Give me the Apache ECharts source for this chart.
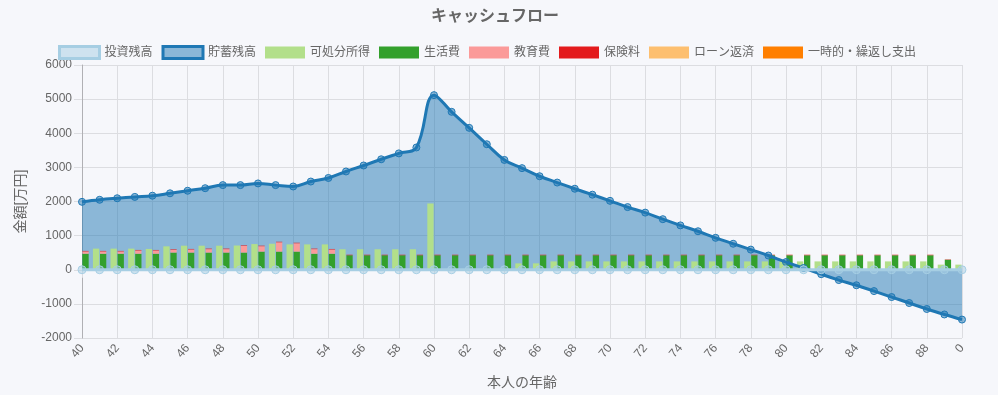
<!DOCTYPE html>
<html>
<head>
<meta charset="utf-8">
<script src="https://cdn.jsdelivr.net/npm/echarts@6/dist/echarts.min.js"></script>
<style>
html,body{margin:0;padding:0;background:#f6f7fb;}
#c{width:998px;height:395px;}
</style>
</head>
<body>
<div id="c"></div>
<script>
const ages = ['40','41','42','43','44','45','46','47','48','49','50','51','52','53','54','55','56','57','58','59','60','61','62','63','64','65','66','67','68','69','70','71','72','73','74','75','76','77','78','79','80','81','82','83','84','85','86','87','88','89','0'];
const investment = [0,0,0,0,0,0,0,0,0,0,0,0,0,0,0,0,0,0,0,0,0,0,0,0,0,0,0,0,0,0,0,0,0,0,0,0,0,0,0,0,0,0,0,0,0,0,0,0,0,0,0];
const savings = [1990,2050,2095,2135,2170,2240,2315,2390,2480,2480,2530,2480,2440,2585,2690,2880,3055,3237,3410,3583,5117,4628,4158,3678,3218,2978,2740,2555,2374,2200,2020,1836,1674,1482,1300,1128,935,762,590,417,225,52,-130,-302,-455,-625,-800,-975,-1150,-1310,-1460];
// first and last entries of the bar stacks fall outside the plot edge in the reference (not visible)
const disposable = [null,619,619,619,610,686,705,705,705,710,753,762,743,743,743,600,600,600,600,600,1942,0,0,0,0,187,187,245,245,245,245,245,245,245,245,245,245,245,245,245,245,245,245,245,245,245,245,245,245,150,150];
const living = [470,470,470,470,470,504,504,504,504,504,532,532,532,470,470,425,425,425,425,425,425,425,425,425,425,425,425,425,425,425,425,425,425,425,425,425,425,425,425,425,425,425,425,425,425,425,425,425,425,293,null];
const education = [67,67,67,95,95,81,91,100,100,196,158,273,244,134,124,0,0,0,0,0,0,0,0,0,0,0,0,0,0,0,0,0,0,0,0,0,0,0,0,0,0,0,0,0,0,0,0,0,0,0,null];
const insurance = [15,15,15,15,15,15,15,15,15,15,15,15,15,15,15,15,15,15,15,15,15,15,15,15,15,15,15,15,15,15,15,15,15,15,15,15,15,15,15,15,15,15,15,15,15,15,15,15,15,10,null];
const loan = [0,0,0,0,0,0,0,0,0,0,0,0,0,0,0,0,0,0,0,0,0,0,0,0,0,0,0,0,0,0,0,0,0,0,0,0,0,0,0,0,0,0,0,0,0,0,0,0,0,0,null];
const oneTime = [0,0,0,0,0,0,0,0,0,0,0,0,0,0,0,0,0,0,0,0,0,0,0,0,0,0,0,0,0,0,0,0,0,0,0,0,0,0,0,0,0,0,0,0,0,0,0,0,0,0,null];
const yTicks = {min:-2000, max:6000, interval:1000};

const FONT = "'Liberation Sans', 'Noto Sans CJK JP', sans-serif";
const chart = echarts.init(document.getElementById('c'), null, {renderer:'canvas'});

function barSeries(name, data, color, stack){
  return {name, type:'bar', data, stack, barWidth:6.3, barGap:'12%', zlevel:1, z:2,
    itemStyle:{color}, emphasis:{disabled:true}};
}

const option = {
  backgroundColor:'#f6f7fb',
  animation:false,
  textStyle:{fontFamily:FONT},
  title:{text:'キャッシュフロー', left:490, top:4, textAlign:'center',
    textStyle:{fontSize:16, fontWeight:'bold', color:'#666', fontFamily:FONT}},
  legend:{top:40, left:53, itemWidth:40, itemHeight:12, itemGap:9,
    textStyle:{fontSize:12, color:'#666', fontFamily:FONT},
    data:[
      {name:'投資残高', icon:'rect', itemStyle:{color:'rgba(166,206,227,0.5)', borderColor:'#a6cee3', borderWidth:3}},
      {name:'貯蓄残高', icon:'rect', itemStyle:{color:'rgba(31,120,180,0.5)', borderColor:'#1f78b4', borderWidth:3}},
      {name:'可処分所得', icon:'rect', itemStyle:{color:'#b2df8a'}},
      {name:'生活費', icon:'rect', itemStyle:{color:'#33a02c'}},
      {name:'教育費', icon:'rect', itemStyle:{color:'#fb9a99'}},
      {name:'保険料', icon:'rect', itemStyle:{color:'#e31a1c'}},
      {name:'ローン返済', icon:'rect', itemStyle:{color:'#fdbf6f'}},
      {name:'一時的・繰返し支出', icon:'rect', itemStyle:{color:'#ff7f00'}}
    ]},
  grid:{left:82, right:36, top:65, bottom:52, containLabel:false},
  xAxis:{type:'category', data:ages, boundaryGap:false,
    name:'本人の年齢', nameLocation:'middle', nameGap:38,
    nameTextStyle:{fontSize:14, color:'#666'},
    axisLine:{lineStyle:{color:'#c4c5c9'}},
    axisTick:{show:true, length:8, interval:1, lineStyle:{color:'#dcdde1'}},
    axisLabel:{interval:1, rotate:50, color:'#666', fontSize:12, margin:8},
    splitLine:{show:true, interval:1, lineStyle:{color:'#dcdde1'}}},
  yAxis:{type:'value', min:yTicks.min, max:yTicks.max, interval:yTicks.interval,
    name:'金額[万円]', nameLocation:'middle', nameGap:54, nameRotate:90,
    nameTextStyle:{fontSize:14, color:'#666'},
    axisLine:{show:true, lineStyle:{color:'#b0b0b4'}},
    axisTick:{show:true, length:8, lineStyle:{color:'#dcdde1'}},
    axisLabel:{color:'#666', fontSize:12, margin:10, formatter:function(v){return String(v);}},
    splitLine:{lineStyle:{color:'#dcdde1'}}},
  series:[
    {name:'貯蓄残高', type:'line', data:savings, smooth:0.4, zlevel:0, z:1, showSymbol:false,
      lineStyle:{width:0, opacity:0}, areaStyle:{color:'rgba(31,120,180,0.5)', opacity:1, origin:0},
      itemStyle:{color:'#1f78b4'}, emphasis:{disabled:true}, silent:true},
    barSeries('可処分所得', disposable, '#b2df8a', 'income'),
    barSeries('生活費', living, '#33a02c', 'expense'),
    barSeries('教育費', education, '#fb9a99', 'expense'),
    barSeries('保険料', insurance, '#e31a1c', 'expense'),
    barSeries('ローン返済', loan, '#fdbf6f', 'expense'),
    barSeries('一時的・繰返し支出', oneTime, '#ff7f00', 'expense'),
    {name:'貯蓄残高', type:'line', data:savings, smooth:0.4, zlevel:1, z:3,
      symbol:'circle', symbolSize:7, showAllSymbol:true,
      lineStyle:{color:'#1f78b4', width:3},
      itemStyle:{color:'rgba(31,120,180,0.5)', borderColor:'#1f78b4', borderWidth:1},
      emphasis:{disabled:true}},
    {name:'投資残高', type:'line', data:investment, zlevel:1, z:4,
      symbol:'circle', symbolSize:8, showAllSymbol:true,
      lineStyle:{color:'#a6cee3', width:3},
      itemStyle:{color:'rgba(166,206,227,0.5)', borderColor:'#a6cee3', borderWidth:1},
      emphasis:{disabled:true}}
  ]
};
chart.setOption(option);
</script>
</body>
</html>
